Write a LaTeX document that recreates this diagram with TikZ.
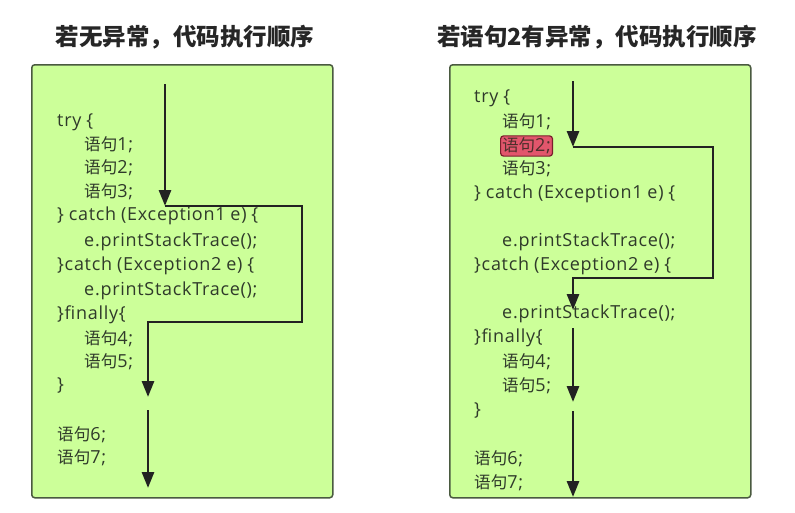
\documentclass[tikz,border=0pt]{standalone}
\usepackage{fontspec}
\setmainfont[WordSpace=0.9,LetterSpace=4]{Open Sans}
\newfontfamily\cjkfont{Noto Sans CJK SC}
\newfontfamily\cjkcode[Scale=0.92]{Noto Sans CJK SC}
\newcommand\yjcn{{\cjkcode 语句}}
\usetikzlibrary{arrows.meta}
\definecolor{panelfill}{HTML}{CCFF99}
\definecolor{panelline}{HTML}{4A5A40}
\definecolor{codecol}{HTML}{2F3A2A}
\definecolor{flowcol}{HTML}{222222}
\definecolor{errfill}{HTML}{E2566C}
\definecolor{errline}{HTML}{7A1F2C}
\tikzset{
  panel/.style={draw=panelline, fill=panelfill, line width=1.5pt, rounded corners=3pt},
  title/.style={font=\cjkfont\fontsize{23.5}{26}\selectfont\bfseries, text=black!85},
  code/.style={anchor=west, inner sep=0pt, font=\fontsize{18}{20}\selectfont, text=codecol},
  errbox/.style={anchor=west, inner xsep=1.5pt, inner ysep=2pt, fill=errfill, draw=errline, line width=1.2pt, rounded corners=3pt, font=\fontsize{18}{20}\selectfont, text=codecol!60!errline},
  flow/.style={draw=flowcol, line width=2.8pt, line join=miter},
  flowarrow/.style={flow, -{Triangle[length=16pt,width=12pt]}}
}
\begin{document}
\begin{tikzpicture}[x=1pt,y=-1pt]
\useasboundingbox (0,0) rectangle (795,512);
\fill[white] (0,0) rectangle (795,512);
% titles
\node[title] (t1) at (185,37) {若无异常，代码执行顺序};
\node[title] (t2) at (597,37) {若语句2有异常，代码执行顺序};
% panels
\node[panel, minimum width=301pt, minimum height=433pt, anchor=north west, inner sep=0pt] (p1) at (31,64) {};
\node[panel, minimum width=301pt, minimum height=433pt, anchor=north west, inner sep=0pt] (p2) at (449,64) {};
% left code
\node[code] (l1) at (57,122) {try \{};
\node[code] (l2) at (84,145) {\yjcn1;};
\node[code] (l3) at (84,168) {\yjcn2;};
\node[code] (l4) at (84,192) {\yjcn3;};
\node[code] (l5) at (57,216) {\} catch (Exception1 e) \{};
\node[code] (l6) at (84,242) {e.printStackTrace();};
\node[code] (l7) at (57,266) {\}catch (Exception2 e) \{};
\node[code] (l8) at (84,291) {e.printStackTrace();};
\node[code] (l9) at (57,315) {\}finally\{};
\node[code] (l10) at (84,339) {\yjcn4;};
\node[code] (l11) at (84,362) {\yjcn5;};
\node[code] (l12) at (57,385) {\}};
\node[code] (l13) at (57,435) {\yjcn6;};
\node[code] (l14) at (57,458) {\yjcn7;};
% right code
\node[code] (r1) at (474,98) {try \{};
\node[code] (r2) at (502,122) {\yjcn1;};
\node[errbox] (r3) at (500,146) {\yjcn2;};
\node[code] (r4) at (502,169) {\yjcn3;};
\node[code] (r5) at (474,194) {\} catch (Exception1 e) \{};
\node[code] (r6) at (502,242) {e.printStackTrace();};
\node[code] (r7) at (474,266) {\}catch (Exception2 e) \{};
\node[code] (r8) at (502,314) {e.printStackTrace();};
\node[code] (r9) at (474,338) {\}finally\{};
\node[code] (r10) at (502,362) {\yjcn4;};
\node[code] (r11) at (502,386) {\yjcn5;};
\node[code] (r12) at (474,410) {\}};
\node[code] (r13) at (474,459) {\yjcn6;};
\node[code] (r14) at (474,483) {\yjcn7;};
% left flow
\coordinate (a0) at (165,84);
\coordinate (a1) at (165,206);
\coordinate (a2) at (302,206);
\coordinate (a3) at (302,322);
\coordinate (a4) at (148,322);
\coordinate (a5) at (148,397);
\coordinate (a6) at (148,410);
\coordinate (a7) at (148,488);
\draw[flowarrow] (a0) -- (a1);
\draw[flowarrow] (a1) -- (a2) -- (a3) -- (a4) -- (a5);
\draw[flowarrow] (a6) -- (a7);
% right flow
\coordinate (b0) at (573,81);
\coordinate (b1) at (573,147);
\coordinate (b2) at (713,147);
\coordinate (b3) at (713,278);
\coordinate (b4) at (573,278);
\coordinate (b5) at (573,310);
\coordinate (b6) at (573,328);
\coordinate (b7) at (573,402);
\coordinate (b8) at (573,411);
\coordinate (b9) at (573,497);
\draw[flowarrow] (b0) -- (b1);
\draw[flowarrow] (b1) -- (b2) -- (b3) -- (b4) -- (b5);
\draw[flowarrow] (b6) -- (b7);
\draw[flowarrow] (b8) -- (b9);
\end{tikzpicture}
\end{document}
